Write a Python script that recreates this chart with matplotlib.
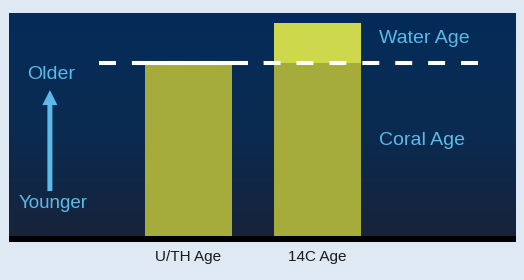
import numpy as np
import matplotlib
matplotlib.use("Agg")
from matplotlib import pyplot as plt
from matplotlib.colors import LinearSegmentedColormap

plt.rcParams['font.family'] = ['Liberation Sans', 'DejaVu Sans']
plt.rcParams['lines.scale_dashes'] = False

# data
categories = ["U/TH Age", "14C Age"]
coral_age = [77.0, 77.9]
water_age = [0.0, 17.7]
reference_age = 77.9

bar_color = "#a6ac3b"
water_color = "#cdd84c"
text_color = "#5bbbe8"

fig = plt.figure(figsize=(5.24, 2.80), dpi=100, facecolor="#dfe9f3")
ax = fig.add_axes([9 / 524, (280 - 239) / 280, 507 / 524, 226 / 280])
ax.set_xlim(-1.391, 2.539)
ax.set_ylim(0, 100)

# gradient panel, navy on top fading to dark slate at the bottom
cmap = LinearSegmentedColormap.from_list("panel", ["#042c59", "#0a2b52", "#17233a"])
grad = np.linspace(0, 1, 256).reshape(-1, 1)
ax.imshow(grad, cmap=cmap, extent=[-1.391, 2.539, 0, 100], origin="upper",
          aspect="auto", zorder=0)

x = np.arange(len(categories))
ax.bar(x, coral_age, width=0.674, color=bar_color, zorder=2)
ax.bar(x, water_age, bottom=coral_age, width=0.674, color=water_color, zorder=2)

# dashed reference line
ax.plot([-0.694, 2.252], [reference_age, reference_age], color="white", lw=2.9,
        ls=(0, (12.2, 11.5)), solid_capstyle="butt", dash_capstyle="butt", zorder=3)
ax.plot([-0.430, 0.461], [reference_age, reference_age], color="white", lw=2.9,
        solid_capstyle="butt", zorder=3)

# labels
ax.text(1.477, 88.5, "Water Age", color=text_color, fontsize=14, va="center", ha="left")
ax.text(1.477, 43.4, "Coral Age", color=text_color, fontsize=14, va="center", ha="left")
ax.text(-1.066, 73.0, "Older", color=text_color, fontsize=14, va="center", ha="center")
ax.text(-1.050, 15.9, "Younger", color=text_color, fontsize=13.5, va="center", ha="center")
ax.annotate("", xy=(-1.074, 65.9), xytext=(-1.074, 21.2),
            arrowprops=dict(width=3.6, headwidth=10.8, headlength=10.8,
                            shrink=0, color=text_color, lw=0))

ax.set_xticks(x)
ax.set_xticklabels(categories, fontsize=11, color="#1a1a1a")
ax.tick_params(axis="x", length=0, pad=8)
ax.set_yticks([])
for s in ["top", "left", "right"]:
    ax.spines[s].set_visible(False)
ax.spines["bottom"].set_color("black")
ax.spines["bottom"].set_linewidth(4.3)
ax.spines["bottom"].set_capstyle("butt")
ax.spines["bottom"].set_zorder(4)

fig.savefig("out.png", dpi=100, facecolor=fig.get_facecolor())
